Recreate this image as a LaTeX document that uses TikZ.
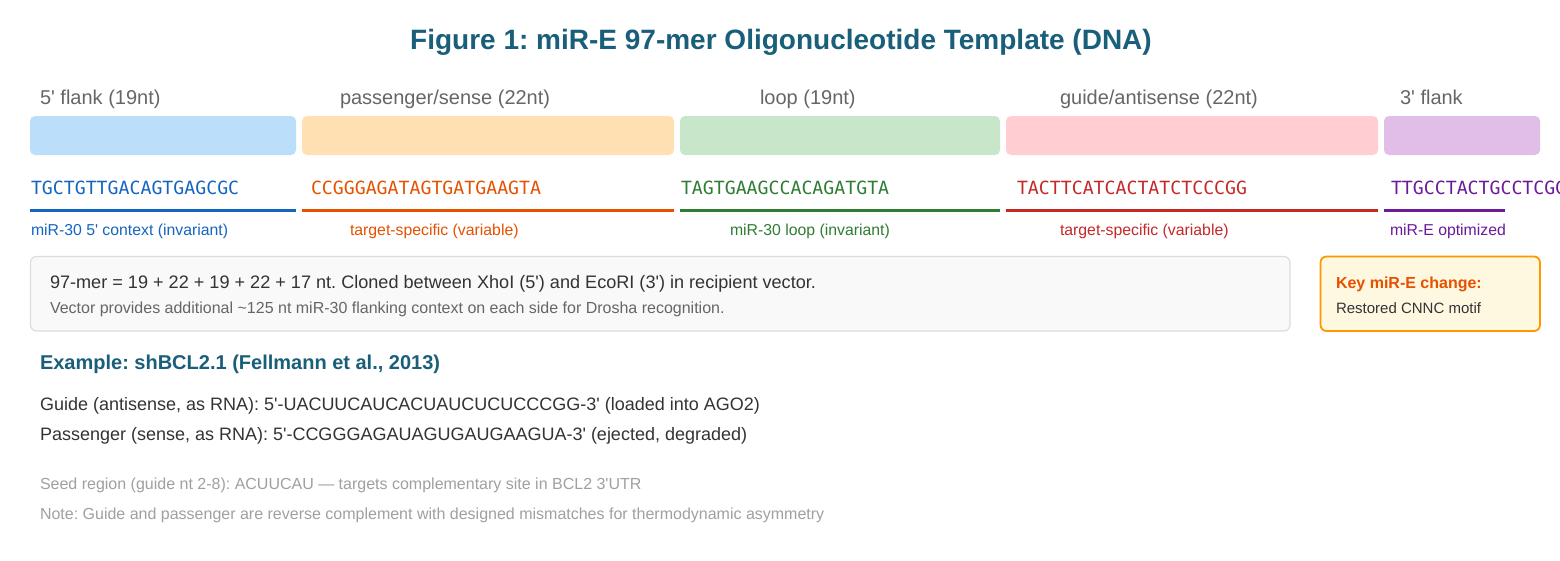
\documentclass[tikz,border=0pt]{standalone}
\usepackage{fontspec}
\setmainfont{Liberation Sans}
\newfontfamily\seqfont{DejaVu Sans Mono}
\newcommand{\q}{\textquotesingle}
\definecolor{titlec}{HTML}{1A5F7A}
\definecolor{graytxt}{HTML}{666666}
\definecolor{darktxt}{HTML}{333333}
\definecolor{lighttxt}{HTML}{A0A0A0}
\definecolor{fblue}{HTML}{BBDEFB}
\definecolor{forange}{HTML}{FFE0B2}
\definecolor{fgreen}{HTML}{C8E6C9}
\definecolor{fred}{HTML}{FFCDD2}
\definecolor{fpurple}{HTML}{E1BEE7}
\definecolor{cblue}{HTML}{1565C0}
\definecolor{corange}{HTML}{E65100}
\definecolor{cgreen}{HTML}{2E7D32}
\definecolor{cred}{HTML}{C62828}
\definecolor{cpurple}{HTML}{6A1B9A}
\definecolor{infofill}{HTML}{F9F9F9}
\definecolor{infodraw}{HTML}{DDDDDD}
\definecolor{keyfill}{HTML}{FFF8E1}
\definecolor{keydraw}{HTML}{FF9800}
\tikzset{
  txt/.style={anchor=base west, inner sep=0pt, outer sep=0pt},
  seglabel/.style={txt, text=graytxt, font=\fontsize{20}{23}\selectfont},
  seq/.style={txt, font=\seqfont\fontsize{18.2}{21}\selectfont},
  sublabel/.style={txt, font=\fontsize{15.8}{18}\selectfont},
  segbox/.style={rounded corners=5pt, draw=none},
  bar/.style={line width=3pt},
}
\frenchspacing
\begin{document}
\begin{tikzpicture}[x=1pt,y=-1pt]
\useasboundingbox (0,0) rectangle (1560,560);
\fill[white] (0,0) rectangle (1560,560);
% title
\node[anchor=base, inner sep=0pt, text=titlec, font=\bfseries\fontsize{28}{32}\selectfont] (title) at (781,49) {Figure 1: miR-E 97-mer Oligonucleotide Template (DNA)};
% segment labels
\node[seglabel] (l1) at (40,104) {5\q{} flank (19nt)};
\node[seglabel] (l2) at (340,104) {passenger/sense (22nt)};
\node[seglabel] (l3) at (760,104) {loop (19nt)};
\node[seglabel] (l4) at (1060,104) {guide/antisense (22nt)};
\node[seglabel] (l5) at (1400,104) {3\q{} flank};
% boxes
\fill[segbox, fblue] (30,116) rectangle (296,155);
\fill[segbox, forange] (302,116) rectangle (674,155);
\fill[segbox, fgreen] (680,116) rectangle (1000,155);
\fill[segbox, fred] (1006,116) rectangle (1378,155);
\fill[segbox, fpurple] (1384,116) rectangle (1540,155);
% sequences
\node[seq, text=cblue] (s1) at (31,194.5) {TGCTGTTGACAGTGAGCGC};
\node[seq, text=corange] (s2) at (311,194.5) {CCGGGAGATAGTGATGAAGTA};
\node[seq, text=cgreen] (s3) at (681,194.5) {TAGTGAAGCCACAGATGTA};
\node[seq, text=cred] (s4) at (1017,194.5) {TACTTCATCACTATCTCCCGG};
\node[seq, text=cpurple] (s5) at (1391,194.5) {TTGCCTACTGCCTCGGA};
% bars
\draw[bar, cblue] (30,210) -- (296,210);
\draw[bar, corange] (302,210) -- (674,210);
\draw[bar, cgreen] (680,210) -- (1000,210);
\draw[bar, cred] (1006,210) -- (1378,210);
\draw[bar, cpurple] (1384,210) -- (1505,210);
% sublabels
\node[sublabel, text=cblue] (d1) at (31,235.5) {miR-30 5\q{} context (invariant)};
\node[sublabel, text=corange] (d2) at (350,235.5) {target-specific (variable)};
\node[sublabel, text=cgreen] (d3) at (730,235.5) {miR-30 loop (invariant)};
\node[sublabel, text=cred] (d4) at (1060,235.5) {target-specific (variable)};
\node[sublabel, text=cpurple] (d5) at (1390,235.5) {miR-E optimized};
% info box
\filldraw[fill=infofill, draw=infodraw, line width=1.2pt, rounded corners=6pt] (30.5,256.5) rectangle (1290,331);
\node[txt, text=darktxt, font=\fontsize{18.1}{21}\selectfont] (i1) at (50,288) {97-mer = 19 + 22 + 19 + 22 + 17 nt. Cloned between XhoI (5\q) and EcoRI (3\q) in recipient vector.};
\node[txt, text=graytxt, font=\fontsize{16}{19}\selectfont] (i2) at (50,313) {Vector provides additional \textasciitilde125 nt miR-30 flanking context on each side for Drosha recognition.};
% key box
\filldraw[fill=keyfill, draw=keydraw, line width=1.8pt, rounded corners=6pt] (1320.5,256.5) rectangle (1540,331);
\node[txt, text=corange, font=\bfseries\fontsize{16}{19}\selectfont] (k1) at (1336,288) {Key miR-E change:};
\node[txt, text=darktxt, font=\fontsize{15}{18}\selectfont] (k2) at (1336,313) {Restored CNNC motif};
% example
\node[txt, text=titlec, font=\bfseries\fontsize{20}{23}\selectfont] (e0) at (40,369) {Example: shBCL2.1 (Fellmann et al., 2013)};
\node[txt, text=darktxt, font=\fontsize{18}{21}\selectfont] (e1) at (40,410) {Guide (antisense, as RNA): 5\q-UACUUCAUCACUAUCUCUCCCGG-3\q{} (loaded into AGO2)};
\node[txt, text=darktxt, font=\fontsize{18}{21}\selectfont] (e2) at (40,440) {Passenger (sense, as RNA): 5\q-CCGGGAGAUAGUGAUGAAGUA-3\q{} (ejected, degraded)};
\node[txt, text=lighttxt, font=\fontsize{16}{19}\selectfont] (e3) at (40,489) {Seed region (guide nt 2-8): ACUUCAU — targets complementary site in BCL2 3\q UTR};
\node[txt, text=lighttxt, font=\fontsize{16}{19}\selectfont] (e4) at (40,519) {Note: Guide and passenger are reverse complement with designed mismatches for thermodynamic asymmetry};
\end{tikzpicture}
\end{document}
